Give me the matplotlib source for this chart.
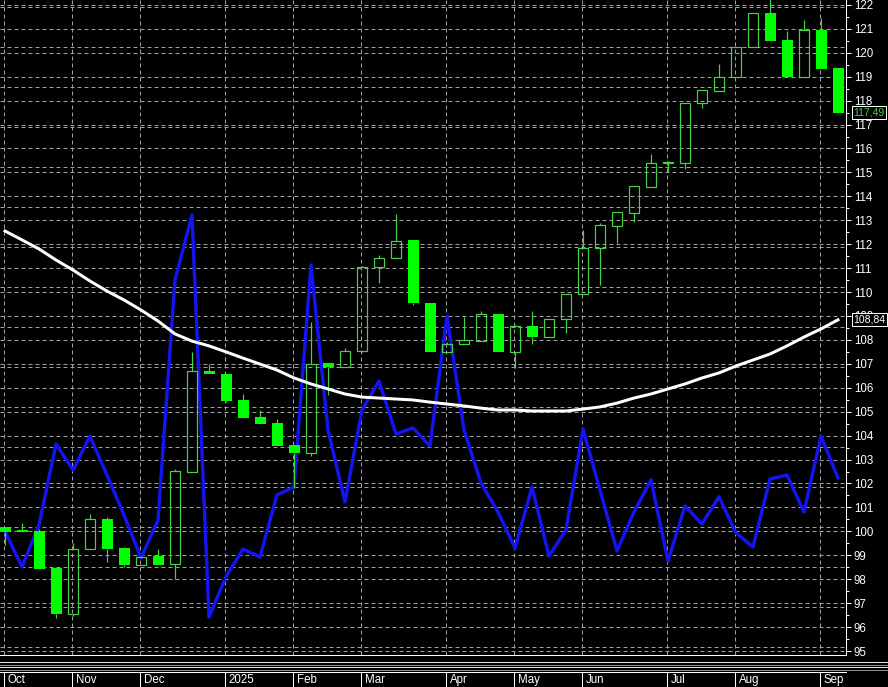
import matplotlib
matplotlib.use('Agg')
import matplotlib.pyplot as plt
from matplotlib import font_manager
from matplotlib.transforms import blended_transform_factory
from matplotlib.lines import Line2D
import numpy as np

# ---------------- data ----------------
opens = [100.18, 100.05, 100.00, 98.47, 96.55, 99.26, 100.52, 99.30, 98.60, 98.97,
         98.64, 102.48, 106.70, 106.58, 105.49, 104.78, 104.53, 103.61, 103.27, 107.04,
         106.87, 107.54, 111.05, 111.42, 112.17, 109.54, 107.49, 107.83, 107.95, 109.08,
         107.49, 108.58, 108.12, 108.87, 109.92, 111.84, 112.76, 113.30, 114.39, 115.39,
         115.39, 117.90, 118.40, 118.99, 120.24, 121.66, 120.53, 118.99, 120.95, 119.36]
highs = [100.20, 100.35, 100.10, 98.47, 99.50, 100.73, 100.60, 99.30, 98.95, 99.26,
         102.60, 107.49, 106.99, 106.58, 105.74, 105.07, 104.69, 103.61, 108.75, 107.04,
         107.66, 111.10, 111.55, 113.26, 112.17, 109.54, 107.90, 108.96, 109.20, 109.08,
         108.62, 109.20, 108.87, 109.92, 112.59, 112.90, 113.35, 114.43, 115.77, 115.48,
         117.90, 118.44, 119.53, 120.24, 121.66, 122.30, 120.91, 121.37, 121.45, 119.36]
lows = [99.43, 99.98, 98.43, 96.38, 96.46, 99.26, 98.72, 98.50, 98.60, 98.60,
        98.00, 102.48, 106.58, 105.40, 104.74, 104.49, 103.57, 101.80, 103.15, 105.70,
        106.85, 107.50, 110.38, 111.42, 109.46, 107.49, 107.49, 107.83, 107.95, 107.49,
        106.83, 107.83, 108.12, 108.29, 109.92, 110.30, 112.05, 112.93, 114.39, 115.02,
        115.14, 117.69, 118.40, 118.99, 120.24, 120.49, 118.99, 118.99, 119.32, 117.49]
closes = [99.97, 99.98, 98.43, 96.55, 99.26, 100.52, 99.28, 98.60, 98.93, 98.60,
          102.52, 106.70, 106.58, 105.45, 104.74, 104.49, 103.57, 103.27, 106.99, 106.87,
          107.54, 111.05, 111.42, 112.13, 109.54, 107.49, 107.83, 108.00, 109.08, 107.49,
          108.58, 108.12, 108.87, 109.92, 111.84, 112.80, 113.35, 114.43, 115.39, 115.42,
          117.90, 118.44, 118.99, 120.24, 121.66, 120.49, 118.99, 120.95, 119.32, 117.49]
ma_line = [112.55, 112.18, 111.80, 111.34, 110.92, 110.46, 110.04, 109.67, 109.25, 108.79,
           108.25, 107.95, 107.75, 107.50, 107.24, 106.99, 106.74, 106.41, 106.16, 105.95,
           105.74, 105.61, 105.57, 105.53, 105.49, 105.40, 105.32, 105.24, 105.15, 105.07,
           105.07, 105.03, 105.03, 105.03, 105.11, 105.20, 105.36, 105.57, 105.74, 105.95,
           106.16, 106.41, 106.62, 106.91, 107.16, 107.41, 107.75, 108.12, 108.46, 108.84]
blue_line = [100.00, 98.51, 100.27, 103.65, 102.56, 103.98, 102.35, 100.68, 98.89, 100.47,
             110.50, 113.22, 96.42, 98.10, 99.26, 98.93, 101.52, 101.85, 111.13, 104.24,
             101.23, 105.07, 106.28, 104.07, 104.32, 103.57, 109.00, 104.24, 102.02, 100.81,
             99.30, 101.85, 98.97, 100.06, 104.28, 101.73, 99.18, 100.81, 102.15, 98.76,
             101.06, 100.31, 101.44, 99.93, 99.35, 102.19, 102.35, 100.81, 103.98, 102.23]
month_labels = ['Oct', 'Nov', 'Dec', '2025', 'Feb', 'Mar', 'Apr', 'May', 'Jun', 'Jul', 'Aug', 'Sep']
month_bars = [0, 4, 8, 13, 17, 21, 26, 30, 34, 39, 43, 48]
price_ticks = list(range(95, 123))
last_close_label = '117,49'
last_ma_label = '108,84'

# ---------------- style ----------------
W, H = 888, 687
PX = 0.72  # points per pixel at 100 dpi
names = {f.name for f in font_manager.fontManager.ttflist}
if 'Liberation Sans Narrow' in names:
    FAM, FS = 'Liberation Sans Narrow', 9.8
else:
    FAM, FS = 'Liberation Sans', 8.3
GRID = '#a0a0a0'
OUTLINE = '#46d246'
FILL = '#00ff00'

fig = plt.figure(figsize=(W / 100, H / 100), dpi=100, facecolor='black')
ax = fig.add_axes([0, 1 - 655 / H, 846 / W, 655 / H])
ax.set_facecolor('black')
scale = 23.93  # pixels per price unit
ax.set_ylim(95 - 4 / scale, 95 + 651 / scale)
ax.set_xlim(-5 / 17, 841 / 17)

# grid
for p in price_ticks:
    ax.axhline(p, color=GRID, lw=PX, ls=(0, (4, 3)), zorder=1)
for k in range(17):
    ax.axhline(95 + (651 - (7 + 40 * k)) / scale, color=GRID, lw=PX, ls=(0, (4, 3)), zorder=1)
for b in month_bars:
    ax.axvline(b - 1 / 17, color=GRID, lw=PX, ls=(0, (4, 3)), zorder=1)

# candles
o = np.array(opens); h = np.array(highs); l = np.array(lows); c = np.array(closes)
x = np.arange(len(o))
bull = c >= o
top = np.maximum(o, c)
bot = np.minimum(o, c)
ax.vlines(x, top, h, color=OUTLINE, lw=1.2 * PX, zorder=3)
ax.vlines(x, l, bot, color=OUTLINE, lw=1.2 * PX, zorder=3)
ax.bar(x[bull], np.maximum(top - bot, 0.03)[bull], bottom=bot[bull], width=10 / 17,
       facecolor='none', edgecolor=OUTLINE, lw=1.2 * PX, zorder=4)
ax.bar(x[~bull], np.maximum(top - bot, 0.04)[~bull], bottom=bot[~bull], width=11 / 17,
       color=FILL, lw=0, zorder=4)

# indicator lines
ax.plot(x, blue_line, color='#1414f0', lw=3.4 * PX, zorder=2)
ax.plot(x, ma_line, color='white', lw=3 * PX, zorder=5)

# axes styling
for s in ['top', 'left']:
    ax.spines[s].set_visible(False)
for s in ['bottom', 'right']:
    ax.spines[s].set_color('white')
    ax.spines[s].set_linewidth(PX)
ax.set_xticks([])
ax.yaxis.tick_right()
ax.set_yticks(price_ticks)
ax.set_yticks(np.arange(95.5, 122, 1), minor=True)
ax.tick_params(axis='y', which='major', length=5 * PX, width=PX, colors='white',
               labelsize=FS, pad=2)
ax.tick_params(axis='y', which='minor', length=3 * PX, width=PX, colors='white')
for lab in ax.get_yticklabels():
    lab.set_fontfamily(FAM)

trans = blended_transform_factory(ax.transAxes, ax.transData)
for val, txt, col in [(closes[-1], last_close_label, OUTLINE), (ma_line[-1], last_ma_label, 'white')]:
    ax.annotate(txt, xy=(1, val), xycoords=trans, xytext=(7.5 * PX, 0), textcoords='offset points',
                va='center', ha='left', color=col, fontsize=FS * 0.9, family=FAM,
                bbox=dict(boxstyle='square,pad=0.15', fc='black', ec='white', lw=PX),
                annotation_clip=False, zorder=10)

# collapsed sub-window stripes
for yy, col in [(662, '#e0e0e0'), (664.5, '#909090'), (667, '#e0e0e0'), (669.5, '#909090')]:
    fig.add_artist(Line2D([0, 1], [1 - yy / H, 1 - yy / H], transform=fig.transFigure,
                          color=col, lw=PX))

# time axis row
ax2 = fig.add_axes([0, 0, 846 / W, 15 / H])
ax2.set_facecolor('black')
ax2.set_xlim(ax.get_xlim())
ax2.set_ylim(0, 1)
for s in ['bottom', 'left', 'right']:
    ax2.spines[s].set_visible(False)
ax2.spines['top'].set_color('white')
ax2.spines['top'].set_linewidth(PX)
ax2.set_xticks([]); ax2.set_yticks([])
for b, lab in zip(month_bars, month_labels):
    ax2.axvline(b - 1 / 17, color='white', lw=PX)
    ax2.text(b - 1 / 17 + 3.5 / 17, 0.45, lab, color='white', fontsize=FS, family=FAM,
             va='center', ha='left')

fig.savefig('out.png', dpi=100, facecolor='black')
